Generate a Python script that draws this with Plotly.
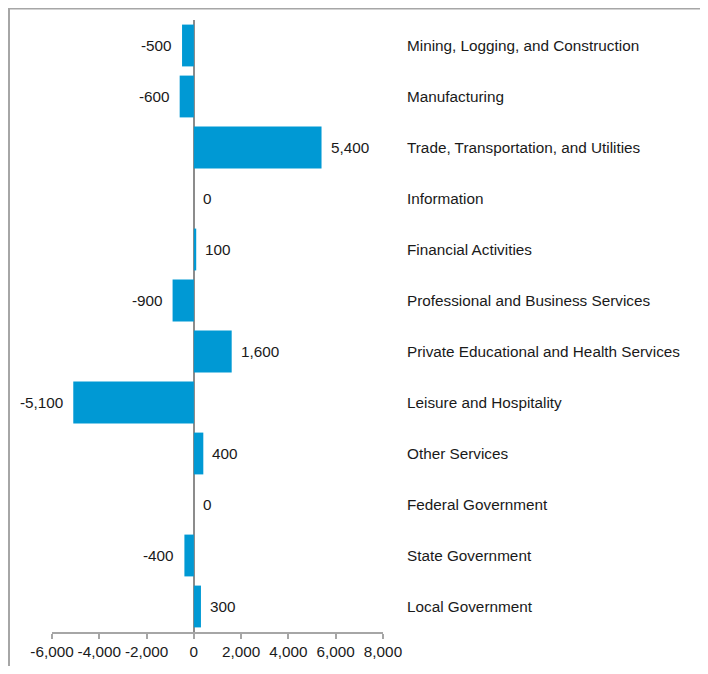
import plotly.graph_objects as go

categories = [
    "Mining, Logging, and Construction",
    "Manufacturing",
    "Trade, Transportation, and Utilities",
    "Information",
    "Financial Activities",
    "Professional and Business Services",
    "Private Educational and Health Services",
    "Leisure and Hospitality",
    "Other Services",
    "Federal Government",
    "State Government",
    "Local Government",
]
values = [-500, -600, 5400, 0, 100, -900, 1600, -5100, 400, 0, -400, 300]
x_ticks = [-6000, -4000, -2000, 0, 2000, 4000, 6000, 8000]
x_tick_labels = ["-6,000", "-4,000", "-2,000", "0", "2,000", "4,000", "6,000", "8,000"]

FONT = "Liberation Sans, Arial, sans-serif"
FS = 15.3
BAR = "#0099d4"
GRAY = "#a6a6a6"

W, H = 692, 658
L, R, T, B = 44, 317, 12, 34
PW, PH = W - L - R, H - T - B

fig = go.Figure()
fig.add_trace(go.Bar(
    x=values, y=categories, orientation="h",
    marker=dict(color=BAR, line=dict(width=0)),
    width=0.82, hoverinfo="skip",
))

annotations = []
for c, v in zip(categories, values):
    neg = v < 0
    annotations.append(dict(
        x=v, y=c, xref="x", yref="y",
        text=f"{v:,}", showarrow=False,
        xanchor="right" if neg else "left",
        xshift=-8 if neg else 7,
        font=dict(family=FONT, size=FS, color="#1a1a1a"),
    ))

fig.update_layout(
    width=W, height=H,
    margin=dict(l=L, r=R, t=T, b=B, autoexpand=False),
    paper_bgcolor="white", plot_bgcolor="white",
    showlegend=False,
    font=dict(family=FONT, size=FS, color="#1a1a1a"),
    annotations=annotations,
    xaxis=dict(
        range=[-6000, 8000], tickvals=x_ticks, ticktext=x_tick_labels,
        showgrid=False, zeroline=True, zerolinecolor="#8c8c8c", zerolinewidth=1.5,
        showline=True, linecolor=GRAY, linewidth=1.5,
        ticks="outside", ticklen=5, tickcolor=GRAY, tickwidth=1.5,
        tickfont=dict(family=FONT, size=FS, color="#1a1a1a"),
        automargin=False, fixedrange=True,
    ),
    yaxis=dict(
        categoryorder="array", categoryarray=categories,
        range=[len(categories) - 0.5, -0.5],
        side="right", showgrid=False, zeroline=False, showline=False,
        ticks="", ticklabelstandoff=23,
        tickfont=dict(family=FONT, size=FS, color="#1a1a1a"),
        automargin=False, fixedrange=True,
    ),
    shapes=[dict(
        type="rect", xref="paper", yref="paper",
        x0=(1 - L) / PW, x1=3, y0=-0.3, y1=1 + (T - 0.5) / PH,
        line=dict(color=GRAY, width=2), fillcolor="rgba(0,0,0,0)", layer="below",
    )],
)

fig.write_html("out.html", config={"displayModeBar": False})
